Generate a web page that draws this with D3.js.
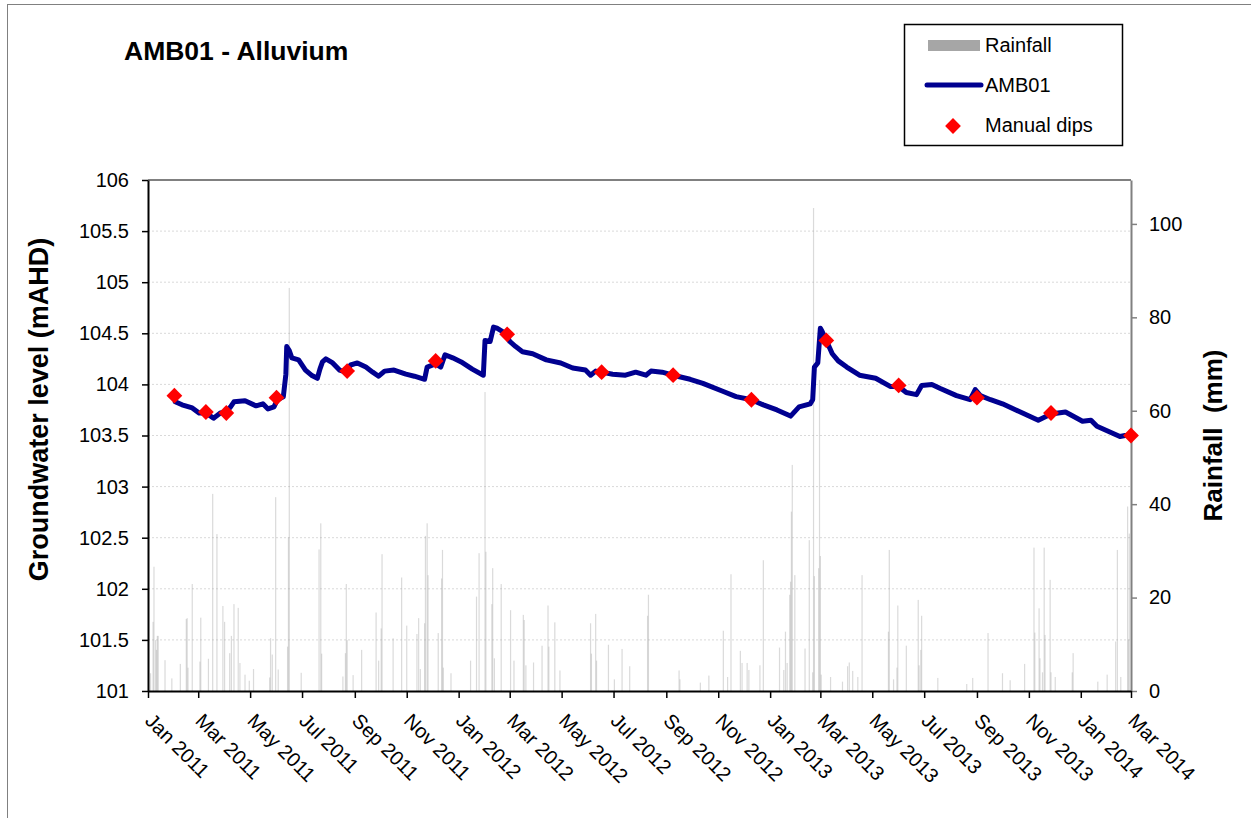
<!DOCTYPE html>
<html>
<head>
<meta charset="utf-8">
<script src="https://cdn.jsdelivr.net/npm/d3@7"></script>
<style>
  body { margin: 0; background: #fff; }
  svg { display: block; font-family: "Liberation Sans", Arial, sans-serif; }
</style>
</head>
<body>
<svg id="chart" width="1251" height="818"></svg>
<script>
// groundwater logger trace (mAHD)
const gwDates = [
  '2011-02-02', '2011-02-10', '2011-02-22', '2011-03-02', '2011-03-10', '2011-03-19', '2011-03-27',
  '2011-04-03', '2011-04-08', '2011-04-12', '2011-04-25', '2011-05-08', '2011-05-16', '2011-05-22',
  '2011-05-29', '2011-06-02', '2011-06-09', '2011-06-12', '2011-06-13', '2011-06-16', '2011-06-19',
  '2011-06-27', '2011-07-05', '2011-07-12', '2011-07-19', '2011-07-22', '2011-07-25', '2011-07-29',
  '2011-08-06', '2011-08-14', '2011-08-22', '2011-08-27', '2011-09-04', '2011-09-14', '2011-09-22',
  '2011-09-29', '2011-10-06', '2011-10-17', '2011-10-31', '2011-11-10', '2011-11-22', '2011-11-25',
  '2011-12-05', '2011-12-11', '2011-12-16', '2011-12-25', '2012-01-04', '2012-01-17', '2012-01-30',
  '2012-02-01', '2012-02-07', '2012-02-11', '2012-02-15', '2012-02-25', '2012-03-01', '2012-03-08',
  '2012-03-16', '2012-03-28', '2012-04-13', '2012-04-30', '2012-05-14', '2012-05-29', '2012-06-04',
  '2012-06-10', '2012-06-17', '2012-06-30', '2012-07-15', '2012-07-27', '2012-08-08', '2012-08-14',
  '2012-08-27', '2012-09-09', '2012-09-29', '2012-10-14', '2012-11-07', '2012-11-22', '2012-12-10',
  '2012-12-24', '2013-01-09', '2013-01-25', '2013-02-04', '2013-02-17', '2013-02-20', '2013-02-22',
  '2013-02-26', '2013-03-01', '2013-03-03', '2013-03-08', '2013-03-15', '2013-03-22', '2013-04-01',
  '2013-04-16', '2013-05-05', '2013-05-22', '2013-06-01', '2013-06-10', '2013-06-22', '2013-06-28',
  '2013-07-10', '2013-07-20', '2013-08-08', '2013-08-24', '2013-08-30', '2013-09-05', '2013-09-17',
  '2013-10-01', '2013-10-22', '2013-11-12', '2013-11-27', '2013-12-14', '2014-01-03', '2014-01-13',
  '2014-01-20', '2014-02-16', '2014-02-22', '2014-03-01'
];
const gwLevels = [
  103.83, 103.80, 103.77, 103.72, 103.72, 103.67, 103.72,
  103.73, 103.78, 103.83, 103.84, 103.79, 103.81, 103.76,
  103.78, 103.85, 103.88, 104.10, 104.37, 104.33, 104.26,
  104.24, 104.14, 104.09, 104.06, 104.15, 104.22, 104.25,
  104.21, 104.14, 104.12, 104.19, 104.21, 104.17, 104.12,
  104.08, 104.13, 104.14, 104.10, 104.08, 104.05, 104.17,
  104.20, 104.17, 104.29, 104.26, 104.22, 104.15, 104.09,
  104.43, 104.42, 104.56, 104.55, 104.50, 104.42, 104.37,
  104.32, 104.30, 104.24, 104.21, 104.16, 104.14, 104.09,
  104.13, 104.12, 104.10, 104.09, 104.12, 104.09, 104.13,
  104.12, 104.09, 104.05, 104.01, 103.93, 103.88, 103.85,
  103.80, 103.75, 103.69, 103.78, 103.81, 103.85, 104.17,
  104.21, 104.55, 104.52, 104.43, 104.30, 104.23, 104.17,
  104.09, 104.06, 103.98, 103.98, 103.92, 103.90, 103.99,
  104.00, 103.96, 103.89, 103.85, 103.95, 103.89, 103.85,
  103.81, 103.73, 103.65, 103.71, 103.73, 103.64, 103.65,
  103.59, 103.49, 103.50, 103.50
];

// manual dip readings
const dipDates = [
  '2011-02-01', '2011-03-10', '2011-04-03', '2011-06-01', '2011-08-23', '2011-12-05', '2012-02-27',
  '2012-06-17', '2012-09-09', '2012-12-10', '2013-03-08', '2013-06-01', '2013-09-01', '2013-11-27',
  '2014-03-01'
];
const dipLevels = [
  103.89, 103.73, 103.72, 103.87, 104.13, 104.23, 104.49,
  104.12, 104.09, 103.85, 104.43, 103.99, 103.87, 103.72,
  103.50
];

// daily rainfall (mm), rain days only
const rainDates = [
  '2011-01-04', '2011-01-07', '2011-01-08', '2011-01-10', '2011-01-11', '2011-01-12', '2011-01-13',
  '2011-01-21', '2011-01-29', '2011-02-08', '2011-02-15', '2011-02-16', '2011-02-17', '2011-02-22',
  '2011-03-03', '2011-03-04', '2011-03-13', '2011-03-18', '2011-03-23', '2011-03-30', '2011-04-01',
  '2011-04-07', '2011-04-09', '2011-04-12', '2011-04-17', '2011-04-19', '2011-04-25', '2011-04-30',
  '2011-05-05', '2011-05-24', '2011-05-25', '2011-05-27', '2011-05-31', '2011-06-03', '2011-06-14',
  '2011-06-15', '2011-06-16', '2011-06-30', '2011-07-21', '2011-07-23', '2011-07-24', '2011-08-18',
  '2011-08-21', '2011-08-22', '2011-08-23', '2011-08-30', '2011-09-09', '2011-09-26', '2011-09-29',
  '2011-10-02', '2011-10-03', '2011-10-16', '2011-10-26', '2011-11-01', '2011-11-13', '2011-11-15',
  '2011-11-17', '2011-11-22', '2011-11-23', '2011-11-25', '2011-11-26', '2011-12-08', '2011-12-12',
  '2011-12-13', '2011-12-14', '2011-12-23', '2012-01-15', '2012-01-22', '2012-01-25', '2012-02-01',
  '2012-02-02', '2012-02-09', '2012-02-10', '2012-02-12', '2012-02-20', '2012-03-02', '2012-03-06',
  '2012-03-17', '2012-03-18', '2012-03-20', '2012-03-29', '2012-04-08', '2012-04-15', '2012-04-16',
  '2012-04-23', '2012-04-29', '2012-06-04', '2012-06-05', '2012-06-10', '2012-06-11', '2012-06-25',
  '2012-07-02', '2012-07-11', '2012-07-20', '2012-08-10', '2012-08-11', '2012-09-16', '2012-09-17',
  '2012-10-11', '2012-10-21', '2012-11-07', '2012-11-12', '2012-11-16', '2012-11-27', '2012-11-29',
  '2012-12-05', '2012-12-07', '2012-12-20', '2012-12-24', '2013-01-12', '2013-01-17', '2013-01-19',
  '2013-01-21', '2013-01-24', '2013-01-25', '2013-01-26', '2013-01-27', '2013-01-30', '2013-02-11',
  '2013-02-16', '2013-02-20', '2013-02-21', '2013-02-22', '2013-02-27', '2013-02-28', '2013-03-01',
  '2013-03-02', '2013-03-13', '2013-03-27', '2013-04-02', '2013-04-04', '2013-04-08', '2013-04-14',
  '2013-04-19', '2013-05-20', '2013-05-21', '2013-05-26', '2013-05-30', '2013-05-31', '2013-06-10',
  '2013-06-24', '2013-06-25', '2013-06-27', '2013-06-28', '2013-07-17', '2013-08-20', '2013-08-27',
  '2013-09-14', '2013-10-01', '2013-10-10', '2013-10-27', '2013-11-07', '2013-11-08', '2013-11-13',
  '2013-11-14', '2013-11-17', '2013-11-19', '2013-11-20', '2013-11-26', '2013-11-27', '2013-12-02',
  '2013-12-22', '2013-12-23', '2014-01-21', '2014-02-01', '2014-02-11', '2014-02-13', '2014-02-17',
  '2014-02-25', '2014-02-26', '2014-02-27'
];
const rainMm = [
  3.8, 14.8, 26.6, 10.9, 8.8, 11.8, 11.8,
  6.6, 2.7, 5.8, 15.4, 15.6, 5.0, 22.9,
  6.3, 15.7, 6.9, 42.2, 33.6, 18.2, 14.8,
  8.1, 11.8, 18.6, 17.8, 6.0, 3.5, 2.2,
  4.7, 2.9, 11.3, 7.8, 41.5, 4.6, 9.5,
  32.9, 86.3, 3.9, 30.3, 35.9, 8.0, 3.1,
  8.1, 22.9, 10.9, 3.4, 8.8, 16.8, 6.5,
  13.4, 29.3, 11.3, 24.3, 14.0, 12.2, 15.6,
  4.7, 14.5, 33.2, 35.9, 24.8, 12.4, 24.1,
  30.2, 5.0, 3.8, 6.5, 20.2, 29.5, 64.0,
  29.8, 18.6, 26.3, 7.0, 22.9, 17.3, 6.5,
  16.3, 15.2, 5.5, 6.1, 9.7, 18.3, 9.5,
  14.7, 4.4, 14.5, 8.0, 16.5, 6.5, 9.9,
  2.5, 9.0, 5.3, 16.1, 20.6, 4.4, 2.5,
  1.8, 3.3, 12.9, 3.0, 25.0, 8.6, 6.0,
  6.0, 4.5, 5.5, 28.0, 9.3, 4.5, 12.7,
  6.0, 20.6, 23.4, 38.4, 48.4, 24.8, 9.1,
  32.3, 4.0, 103.4, 24.6, 26.3, 66.6, 28.9,
  3.5, 3.0, 2.0, 5.3, 6.1, 4.3, 3.0,
  24.8, 12.7, 30.2, 2.5, 5.0, 18.3, 9.7,
  19.5, 5.5, 8.8, 16.1, 2.8, 1.5, 2.8,
  12.4, 3.8, 2.3, 5.8, 30.7, 12.5, 17.7,
  7.0, 4.0, 30.7, 12.0, 23.8, 4.0, 3.0,
  4.0, 8.1, 2.0, 3.5, 10.6, 30.2, 3.0,
  39.5, 11.0, 33.7
];

const levelTicks = [101, 101.5, 102, 102.5, 103, 103.5, 104, 104.5, 105, 105.5, 106];
const rainTicks = [0, 20, 40, 60, 80, 100];
const legendLabels = ['Rainfall', 'AMB01', 'Manual dips'];

const parseDate = d3.timeParse('%Y-%m-%d');
const fmtMonth = d3.timeFormat('%b %Y');

const plot = {left: 148, right: 1131, top: 180, bottom: 691};

const svg = d3.select('#chart');

// outer chart border (only top/left visible in frame)
svg.append('rect')
  .attr('x', 7.5).attr('y', 4.5)
  .attr('width', 1400).attr('height', 1000)
  .attr('fill', '#fff')
  .attr('stroke', '#808080')
  .attr('stroke-width', 1);

const x = d3.scaleTime()
  .domain([parseDate('2011-01-01'), parseDate('2014-03-01')])
  .range([plot.left, plot.right]);
const yLevel = d3.scaleLinear().domain([101, 106]).range([plot.bottom, plot.top]);
const yRain = d3.scaleLinear().domain([0, 109.4]).range([plot.bottom, plot.top]);

// gridlines
svg.append('g')
  .selectAll('line')
  .data(levelTicks.filter(d => d > 101 && d < 106))
  .enter().append('line')
  .attr('x1', plot.left).attr('x2', plot.right)
  .attr('y1', d => yLevel(d)).attr('y2', d => yLevel(d))
  .attr('stroke', '#d9d9d9')
  .attr('stroke-width', 1)
  .attr('stroke-dasharray', '2,2');

// rainfall bars
const rain = rainDates.map((d, i) => ({date: parseDate(d), mm: rainMm[i]}));
svg.append('g')
  .selectAll('rect')
  .data(rain)
  .enter().append('rect')
  .attr('x', d => x(d.date) - 0.6)
  .attr('width', 1.2)
  .attr('y', d => yRain(d.mm))
  .attr('height', d => yRain(0) - yRain(d.mm))
  .attr('fill', '#a6a6a6')
  .attr('fill-opacity', 0.42);

// top border and right axis
svg.append('line')
  .attr('x1', plot.left).attr('x2', plot.right)
  .attr('y1', plot.top).attr('y2', plot.top)
  .attr('stroke', '#808080').attr('stroke-width', 2);

const rightAxis = svg.append('g')
  .attr('transform', `translate(${plot.right},0)`)
  .call(d3.axisRight(yRain).tickValues(rainTicks).tickSize(6).tickSizeOuter(0).tickPadding(12));
rightAxis.select('.domain').attr('stroke', '#808080').attr('stroke-width', 2);
rightAxis.selectAll('.tick line').attr('stroke', '#808080').attr('stroke-width', 1.5);
rightAxis.selectAll('text').attr('font-size', 20).attr('fill', '#000')
  .attr('font-family', '"Liberation Sans", Arial, sans-serif');

// left axis
const leftAxis = svg.append('g')
  .attr('transform', `translate(${plot.left},0)`)
  .call(d3.axisLeft(yLevel).tickValues(levelTicks).tickFormat(d => String(d)).tickSize(6).tickSizeOuter(0).tickPadding(13));
leftAxis.select('.domain').attr('stroke', '#000').attr('stroke-width', 2);
leftAxis.selectAll('.tick line').attr('stroke', '#000').attr('stroke-width', 1.5);
leftAxis.selectAll('text').attr('font-size', 20).attr('fill', '#000')
  .attr('font-family', '"Liberation Sans", Arial, sans-serif');

// bottom axis
const bottomAxis = svg.append('g')
  .attr('transform', `translate(0,${plot.bottom})`)
  .call(d3.axisBottom(x).ticks(d3.timeMonth.every(2)).tickSize(7).tickSizeOuter(0).tickFormat(''));
bottomAxis.select('.domain').attr('stroke', '#000').attr('stroke-width', 2);
bottomAxis.selectAll('.tick line').attr('stroke', '#000').attr('stroke-width', 1.5);

const monthTicks = x.ticks(d3.timeMonth.every(2));
svg.append('g')
  .selectAll('text')
  .data(monthTicks)
  .enter().append('text')
  .attr('transform', d => `translate(${x(d) - 4},${plot.bottom + 31}) rotate(45)`)
  .attr('font-size', 20)
  .attr('fill', '#000')
  .text(d => fmtMonth(d));

// groundwater line
const gw = gwDates.map((d, i) => ({date: parseDate(d), level: gwLevels[i]}));
svg.append('path')
  .datum(gw)
  .attr('fill', 'none')
  .attr('stroke', '#000090')
  .attr('stroke-width', 5)
  .attr('stroke-linejoin', 'round')
  .attr('stroke-linecap', 'round')
  .attr('d', d3.line().x(d => x(d.date)).y(d => yLevel(d.level)));

// manual dips
const dips = dipDates.map((d, i) => ({date: parseDate(d), level: dipLevels[i]}));
const diamond = d3.symbol().type(d3.symbolSquare).size(125);
svg.append('g')
  .selectAll('path')
  .data(dips)
  .enter().append('path')
  .attr('d', diamond)
  .attr('transform', d => `translate(${x(d.date)},${yLevel(d.level)}) rotate(45)`)
  .attr('fill', '#ff0000');

// titles
svg.append('text')
  .attr('x', 124).attr('y', 60)
  .attr('font-size', 26.5).attr('font-weight', 'bold')
  .text('AMB01 - Alluvium');

svg.append('text')
  .attr('transform', `translate(48,${(plot.top + plot.bottom) / 2 - 26}) rotate(-90)`)
  .attr('text-anchor', 'middle')
  .attr('font-size', 27).attr('font-weight', 'bold')
  .text('Groundwater level (mAHD)');

svg.append('text')
  .attr('transform', `translate(1222,${(plot.top + plot.bottom) / 2}) rotate(-90)`)
  .attr('text-anchor', 'middle')
  .attr('font-size', 26).attr('font-weight', 'bold')
  .style('white-space', 'pre')
  .text('Rainfall  (mm)');

// legend
const legend = svg.append('g').attr('transform', 'translate(904,24)');
legend.append('rect')
  .attr('x', 0.5).attr('y', 0.5)
  .attr('width', 218).attr('height', 121)
  .attr('fill', '#fff')
  .attr('stroke', '#000')
  .attr('stroke-width', 1.5);
legend.append('rect')
  .attr('x', 24).attr('y', 16)
  .attr('width', 52).attr('height', 11)
  .attr('fill', '#a6a6a6');
legend.append('line')
  .attr('x1', 23).attr('x2', 77)
  .attr('y1', 61).attr('y2', 61)
  .attr('stroke', '#000090').attr('stroke-width', 5)
  .attr('stroke-linecap', 'round');
legend.append('path')
  .attr('d', diamond)
  .attr('transform', 'translate(49,102) rotate(45)')
  .attr('fill', '#ff0000');
legend.selectAll('text.lbl')
  .data(legendLabels)
  .enter().append('text')
  .attr('class', 'lbl')
  .attr('x', 81)
  .attr('y', (d, i) => 28 + i * 40)
  .attr('font-size', 20)
  .text(d => d);
</script>
</body>
</html>
